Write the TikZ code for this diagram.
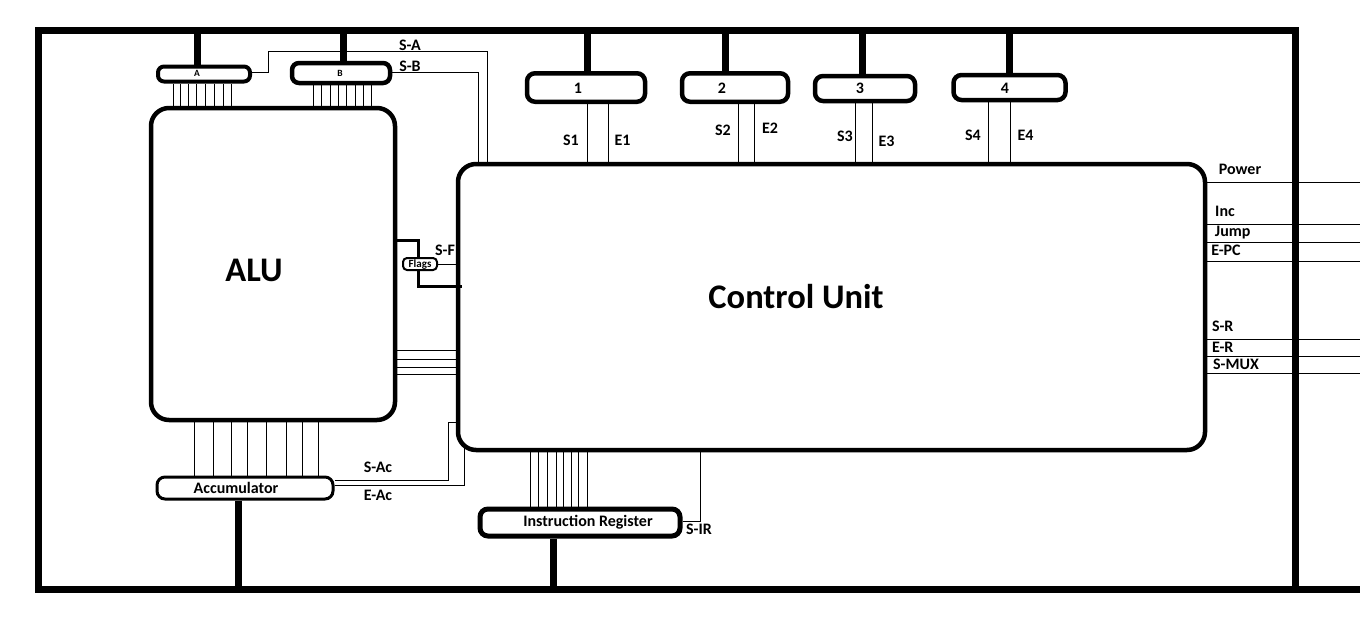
\documentclass[tikz,border=0pt]{standalone}
\usepackage{fontspec}
\setmainfont{Carlito}
\begin{document}
\begin{tikzpicture}[x=1pt,y=-1pt,
  bus/.style={line width=7pt, line join=miter},
  stub/.style={line width=7pt},
  sig/.style={line width=1pt},
  flagline/.style={line width=3pt},
  regbox/.style={draw, line width=4.5pt, rounded corners=8pt, inner sep=0pt, fill=white},
  unitbox/.style={draw, line width=4.5pt, rounded corners=18pt, inner sep=0pt},
  bigtxt/.style={font=\bfseries\fontsize{34.5}{34.5}\selectfont, inner sep=0pt},
  regtxt/.style={font=\bfseries\fontsize{16}{16}\selectfont, inner sep=0pt},
  tinytxt/.style={font=\bfseries\fontsize{9.5}{9.5}\selectfont, inner sep=0pt},
  lbl/.style={font=\bfseries\fontsize{16}{16}\selectfont, inner sep=0pt}]
\useasboundingbox (0,0) rectangle (1360,630);

% bus frame
\coordinate (TL) at (38,30);
\coordinate (TR) at (1295.5,30);
\coordinate (BL) at (38,589);
\coordinate (BR) at (1295.5,589);
\coordinate (BE) at (1360,589);
\draw[bus] (BR) -- (TR) -- (TL) -- (BL) -- (BE);

% units
\node[unitbox, minimum width=244, minimum height=312] (ALU) at (273,264) {};
\node[bigtxt] (alut) at (254,270) {ALU};
\node[unitbox, minimum width=747, minimum height=286] (CU) at (831.5,307) {};
\node[bigtxt] (cut) at (796,297) {Control Unit};

% registers A and B
\node[regbox, rounded corners=6pt, line width=4pt, minimum width=92, minimum height=15] (A) at (204,74) {};
\node[tinytxt] (At) at (197,73.5) {A};
\node[regbox, rounded corners=7pt, line width=4.5pt, minimum width=98, minimum height=20] (B) at (341,73) {};
\node[tinytxt] (Bt) at (340,73.5) {B};
\draw[stub] (197,0 |- TL) -- (197,0 |- A.north);
\draw[stub] (343,0 |- TL) -- (343,0 |- B.north);
\foreach \x in {173.3,180.7,188.3,196.7,205,214,223.3,231.7}
  \draw[sig] (\x,0 |- A.south) -- (\x,0 |- ALU.north);
\foreach \x in {313.3,321.6,330,338.3,346.6,355,363.3,371.7}
  \draw[sig] (\x,0 |- B.south) -- (\x,0 |- ALU.north);
\draw[sig] (A.east |- 0,72.3) -- (268,72.3) -- (268,51.5) -- (487,51.5) -- (487,0 |- CU.north);
\draw[sig] (B.east |- 0,72.3) -- (478,72.3) -- (478,0 |- CU.north);
\node[lbl] (sa) at (410,45) {S-A};
\node[lbl] (sb) at (410,66.5) {S-B};

% registers 1-4
\node[regbox, minimum width=118, minimum height=28.5] (R1) at (586,87.5) {};
\node[regtxt] (R1t) at (578,88) {1};
\node[regbox, minimum width=106, minimum height=28.5] (R2) at (735,87.5) {};
\node[regtxt] (R2t) at (722,88) {2};
\node[regbox, minimum width=100, minimum height=25] (R3) at (865,88.5) {};
\node[regtxt] (R3t) at (860,88) {3};
\node[regbox, minimum width=112, minimum height=25] (R4) at (1009.5,87.5) {};
\node[regtxt] (R4t) at (1005,88) {4};
\foreach \r/\x in {R1/587,R2/725,R3/862,R4/1009}
  \draw[stub] (\x,0 |- TL) -- (\x,0 |- \r.north);
\foreach \r/\x in {R1/587.3,R1/608.7,R2/738.8,R2/754.5,R3/855,R3/872.4,R4/988.7,R4/1010}
  \draw[sig] (\x,0 |- \r.south) -- (\x,0 |- CU.north);
\node[lbl] (s1) at (571,140) {S1};
\node[lbl] (e1) at (622.5,140) {E1};
\node[lbl] (s2) at (723,130) {S2};
\node[lbl] (e2) at (770,128) {E2};
\node[lbl] (s3) at (845,136.7) {S3};
\node[lbl] (e3) at (886.5,141.7) {E3};
\node[lbl] (s4) at (973,135.5) {S4};
\node[lbl] (e4) at (1025.5,135.5) {E4};

% flags
\draw[flagline] (ALU.east |- 0,240.7) -- (418,240.7) -- (418,286.5) -- (462,286.5);
\node[regbox, rounded corners=4pt, line width=2pt, minimum width=34, minimum height=12] (F) at (420,264) {};
\node[font=\bfseries\fontsize{11}{11}\selectfont, inner sep=0pt] (Ft) at (420,264.5) {Flags};
\draw[sig] (F.east) -- (CU.west |- F.east);
\node[lbl] (sf) at (445,250.5) {S-F};
\foreach \y in {350.7,359.3,367.3,374}
  \draw[sig] (ALU.east |- 0,\y) -- (CU.west |- 0,\y);

% accumulator
\node[regbox, line width=3pt, minimum width=176, minimum height=22] (Acc) at (245,488) {};
\node[regtxt] (Acct) at (236,488) {Accumulator};
\foreach \x in {194,213,231,247,266,286,302,318}
  \draw[sig] (\x,0 |- ALU.south) -- (\x,0 |- Acc.north);
\draw[stub] (238,0 |- Acc.south) -- (238,0 |- BL);
\draw[sig] (Acc.east |- 0,480.7) -- (448,480.7) -- (448,422.7) -- (CU.west |- 0,422.7);
\coordinate (eac) at (464,447);
\draw[sig] (Acc.east |- 0,485) -- (464,485) -- (eac);
\node[lbl] (sac) at (378,467.3) {S-Ac};
\node[lbl] (eact) at (378,495.5) {E-Ac};

% instruction register
\node[regbox, line width=5pt, minimum width=200, minimum height=27] (IR) at (580,522.5) {};
\node[regtxt] (IRt) at (588,522.5) {Instruction Register};
\foreach \x in {530,538,547,556,563,571,578,587}
  \draw[sig] (\x,0 |- CU.south) -- (\x,0 |- IR.north);
\draw[stub] (553,0 |- IR.south) -- (553,0 |- BL);
\draw[sig] (IR.east |- 0,521) -- (700,521) -- (700,0 |- CU.south);
\node[lbl] (sir) at (699,529) {S-IR};

% right side signals
\foreach \y in {182.3,224.3,242.3,261,339,356.3,373.3}
  \draw[sig] (CU.east |- 0,\y) -- (1360,\y);
\node[lbl] (pw) at (1240,169.3) {Power};
\node[lbl] (inc) at (1225,211.7) {Inc};
\node[lbl] (jmp) at (1232.7,232.7) {Jump};
\node[lbl] (epc) at (1226,250.7) {E-PC};
\node[lbl] (sr) at (1222.7,326.7) {S-R};
\node[lbl] (er) at (1222.7,347.7) {E-R};
\node[lbl] (smux) at (1236,364.3) {S-MUX};
\end{tikzpicture}
\end{document}
